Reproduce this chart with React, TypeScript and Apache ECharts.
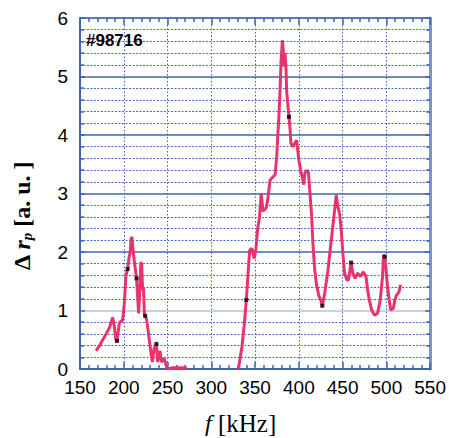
import React, { useEffect, useRef } from "react";
import * as echarts from "echarts";

// frequency axis [kHz] ticks
const xTicks = [150, 200, 250, 300, 350, 400, 450, 500, 550];
const yTicks = [0, 1, 2, 3, 4, 5, 6];

// first branch (low-frequency mode)
const freqA = [168.5, 173, 178, 183.6, 187.4, 189, 191, 192.3, 193.5, 195, 198.7, 200.5, 202.5, 204.4, 206, 207.4, 208.3, 209.3, 210.5, 212, 214.6, 216, 217, 218.5, 219.5, 220.5, 221.5, 222.5, 223.5, 224.4, 226, 227, 229, 230.8, 232.7, 234.6, 237.3, 238.5, 240, 241.4, 243, 246, 249.7, 255, 272];
const valA = [0.31, 0.42, 0.55, 0.70, 0.88, 0.75, 0.50, 0.48, 0.62, 0.79, 0.84, 1.10, 1.60, 1.71, 1.90, 2.0, 2.22, 2.26, 2.05, 1.85, 1.55, 1.2, 0.95, 1.4, 1.83, 1.78, 1.35, 1.40, 0.95, 0.91, 0.85, 0.75, 0.52, 0.30, 0.12, 0.35, 0.43, 0.12, 0.20, 0.31, 0.12, 0.18, 0.0, 0.02, 0.02];

// second branch (high-frequency mode)
const freqB = [331, 335, 337.8, 340, 341.5, 343.8, 346.4, 349, 351, 353.2, 355, 357, 359, 360.5, 362.6, 364.5, 367.2, 369, 372.9, 374.7, 375.9, 377.4, 378.5, 379.6, 381.2, 382.2, 383, 384.2, 385.4, 386, 388.7, 389.8, 391, 392.8, 395, 397.4, 398.5, 400.1, 402, 403.8, 405.7, 406.9, 409.5, 411, 412.5, 414.4, 416.3, 418.2, 420, 422.7, 425, 426.8, 429.5, 433.3, 437, 440.9, 442.7, 444.6, 446.5, 448.4, 450.3, 452.2, 454.8, 456.7, 458.6, 459.7, 461.6, 464.2, 467.3, 470.3, 473.7, 476.7, 478.6, 480.5, 483.1, 486.2, 489.9, 493, 495.6, 496.7, 498.2, 499.3, 501.3, 503.2, 505, 508, 509.6, 511.5, 514.4, 516.3];
const valB = [0.0, 0.38, 0.78, 1.18, 1.52, 2.03, 2.06, 1.89, 2.06, 2.43, 2.58, 3.0, 2.7, 2.72, 2.75, 2.9, 3.23, 3.26, 3.32, 3.63, 3.97, 4.37, 4.77, 5.23, 5.62, 5.45, 5.17, 5.40, 5.11, 4.77, 4.31, 4.14, 3.86, 3.80, 3.85, 3.91, 3.77, 3.57, 3.40, 3.29, 3.15, 3.35, 3.40, 3.35, 3.05, 2.66, 2.09, 1.69, 1.46, 1.26, 1.18, 1.08, 1.29, 1.69, 2.2, 2.72, 2.97, 2.77, 2.66, 2.38, 1.98, 1.64, 1.52, 1.52, 1.72, 1.82, 1.64, 1.55, 1.64, 1.58, 1.66, 1.58, 1.35, 1.18, 1.01, 0.92, 0.95, 1.18, 1.58, 1.95, 1.92, 1.75, 1.41, 1.18, 1.01, 1.04, 1.18, 1.26, 1.32, 1.44];

// black marker points
const markF = [192.3, 204.4, 214.6, 224.4, 237.3, 340, 388.7, 426.8, 459.7, 498.2];
const markV = [0.48, 1.71, 1.55, 0.91, 0.43, 1.18, 4.31, 1.08, 1.82, 1.92];

const shotLabel = "#98716";

const BLUE = "#3f63b5";
const LINE = "#e8336e";

export default function App() {
  const ref = useRef<HTMLDivElement>(null);
  useEffect(() => {
    if (!ref.current) return;
    const chart = echarts.init(ref.current, null, { renderer: "svg" });
    const zip = (a: number[], b: number[]) => a.map((v, i) => [v, b[i]]);
    const xMin = xTicks[0], xMax = xTicks[xTicks.length - 1];
    const yMin = yTicks[0], yMax = yTicks[yTicks.length - 1];
    const splitColors = yTicks.map((t) => (t === 1 ? "#b4c2e2" : BLUE));
    chart.setOption({
      animation: false,
      backgroundColor: "#ffffff",
      grid: { left: 80, top: 18, right: 16, bottom: 69 },
      xAxis: [
        {
          type: "value", min: xMin, max: xMax, interval: 50, position: "bottom",
          axisLine: { show: true, onZero: false, lineStyle: { color: BLUE, width: 2 } },
          axisTick: { show: true, inside: true, length: 7, lineStyle: { color: BLUE, width: 1.5 } },
          minorTick: { show: true, splitNumber: 5, length: 4, lineStyle: { color: BLUE, width: 1.5 } },
          axisLabel: { color: "#000", fontSize: 19, fontFamily: "Liberation Sans", margin: 9 },
          splitLine: { show: true, lineStyle: { color: BLUE, type: [1.5, 2], width: 1 } },
        },
        {
          type: "value", min: xMin, max: xMax, interval: 50, position: "top",
          axisLine: { show: true, onZero: false, lineStyle: { color: "#5b78c0", width: 2 } },
          axisTick: { show: true, inside: true, length: 7, lineStyle: { color: BLUE, width: 1.5 } },
          minorTick: { show: true, splitNumber: 5, length: 4, lineStyle: { color: BLUE, width: 1.5 } },
          axisLabel: { show: false },
          splitLine: { show: false },
        },
      ],
      yAxis: [
        {
          type: "value", min: yMin, max: yMax, interval: 1, position: "left",
          axisLine: { show: true, onZero: false, lineStyle: { color: BLUE, width: 2 } },
          axisTick: { show: true, inside: true, length: 5, lineStyle: { color: BLUE, width: 1.5 } },
          minorTick: { show: true, splitNumber: 5, length: 4, lineStyle: { color: BLUE, width: 1.5 } },
          axisLabel: { color: "#000", fontSize: 19, fontFamily: "Liberation Sans", margin: 12, padding: [0, 0, 6, 0] },
          splitLine: { show: true, lineStyle: { color: splitColors, width: 1.5 } },
          minorSplitLine: { show: true, lineStyle: { color: "#4a6cc0", type: [2, 1.5], width: 1 } },
        },
        {
          type: "value", min: yMin, max: yMax, interval: 1, position: "right",
          axisLine: { show: true, onZero: false, lineStyle: { color: "#7d93cf", width: 3 } },
          axisTick: { show: true, inside: true, length: 5, lineStyle: { color: BLUE, width: 1.5 } },
          minorTick: { show: true, splitNumber: 5, length: 4, lineStyle: { color: BLUE, width: 1.5 } },
          axisLabel: { show: false },
          splitLine: { show: false },
        },
      ],
      series: [
        {
          type: "line", data: zip(freqA, valA), showSymbol: false, clip: true,
          lineStyle: { color: LINE, width: 3 }, z: 5,
        },
        {
          type: "line", data: zip(freqB, valB), showSymbol: false, clip: true,
          lineStyle: { color: LINE, width: 3 }, z: 5,
        },
        {
          type: "scatter", data: zip(markF, markV), symbol: "rect", symbolSize: 4,
          itemStyle: { color: "#000" }, z: 6,
        },
      ],
      graphic: [
        {
          type: "text", left: 86, top: 32, z: 100,
          style: { text: shotLabel, fontSize: 17, fontWeight: "bold", fontFamily: "Liberation Sans", fill: "#000" },
        },
        {
          type: "text", x: 205, y: 423, z: 100,
          style: {
            text: "{i|f}{n| [kHz]}",
            verticalAlign: "middle",
            rich: {
              i: { fontSize: 24, fontStyle: "italic", fontFamily: "Liberation Serif", fill: "#000" },
              n: { fontSize: 25, fontFamily: "Liberation Serif", fill: "#000" },
            },
          },
        },
        {
          type: "text", x: 22, y: 216, rotation: Math.PI / 2, z: 100,
          style: {
            text: "{d|Δ }{r|r}{p|p}{n| [a. u. ]}",
            align: "center",
            verticalAlign: "middle",
            rich: {
              d: { fontSize: 24, fontWeight: "bold", fontFamily: "Liberation Serif", fill: "#000" },
              r: { fontSize: 24, fontWeight: "bold", fontStyle: "italic", fontFamily: "Liberation Serif", fill: "#000" },
              p: { fontSize: 15, fontWeight: "bold", fontStyle: "italic", fontFamily: "Liberation Serif", fill: "#000", padding: [10, 0, 0, 0] },
              n: { fontSize: 24, fontWeight: "bold", fontFamily: "Liberation Serif", fill: "#000" },
            },
          },
        },
      ],
    });
    return () => chart.dispose();
  }, []);
  return (
    <div
      ref={ref}
      style={{ position: "fixed", left: 0, top: 0, width: 449, height: 438, background: "#fff" }}
    />
  );
}
